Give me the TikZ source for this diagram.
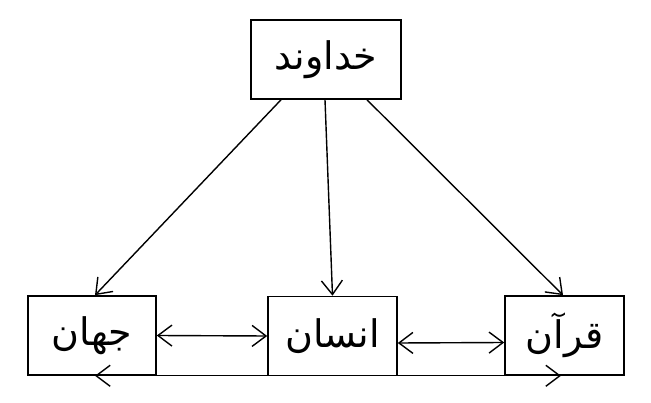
\documentclass[tikz,border=0pt]{standalone}
\usepackage{fontspec}
\usepackage{tikz}
\usetikzlibrary{arrows.meta}
\TeXXeTstate=1
\newfontfamily\arabicfont[Script=Arabic]{DejaVu Sans}
\tikzset{
  box/.style={draw,line width=1.6pt,inner sep=0pt,minimum height=79pt,
    font=\arabicfont\fontsize{38}{44}\selectfont},
  link/.style={line width=1.4pt,-{Straight Barb[length=14pt,width=21pt,line width=1.4pt]}},
  both/.style={link,{Straight Barb[length=14pt,width=21pt,line width=1.4pt]}-{Straight Barb[length=14pt,width=21pt,line width=1.4pt]}}
}
\begin{document}
\begin{tikzpicture}[x=1pt,y=-1pt]
  \useasboundingbox (0,0) rectangle (651,403);
  % boxes, centres
  \node[box,minimum width=150pt] (god) at (326,59.5) {\beginR خداوند\endR};
  \node[box,minimum width=128pt] (world) at (92,335.5) {\beginR جهان\endR};
  \node[box,minimum width=129pt] (human) at (332.5,336) {\beginR انسان\endR};
  \node[box,minimum width=119pt] (quran) at (564.5,335.5) {\beginR قرآن\endR};
  % from the top box down
  \draw[link] ([xshift=-45pt]god.south) -- ([xshift=3pt]world.north);
  \draw[link] ([xshift=-1pt]god.south) -- (human.north);
  \draw[link] ([xshift=41pt]god.south) -- ([xshift=-1.5pt]quran.north);
  % between the bottom boxes
  \draw[both] (world.east) -- (human.west);
  \draw[both] ([yshift=-7pt]human.east) -- ([yshift=-7pt]quran.west);
  \draw[both] ([xshift=3pt]world.south) -- ([xshift=-3.5pt]quran.south);
\end{tikzpicture}
\end{document}
